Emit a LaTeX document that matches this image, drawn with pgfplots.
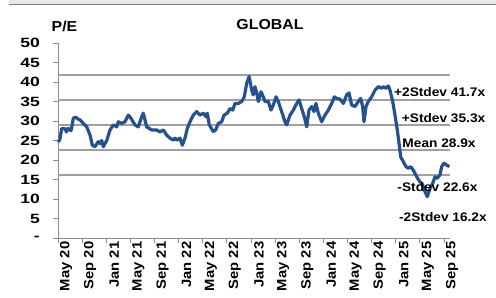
\documentclass[border=0pt]{standalone}
\usepackage{fontspec}
\setmainfont{Liberation Sans}[FakeStretch=1.1]
\newfontfamily\tickfont{Liberation Sans}[FakeStretch=1.3]
\usepackage{pgfplots}
\pgfplotsset{compat=1.18}
\definecolor{pelines}{HTML}{25528F}
\definecolor{sdgray}{HTML}{A0A0A0}
\definecolor{axgray}{HTML}{8C8C8C}
\begin{document}
\begin{tikzpicture}
\useasboundingbox (0,0) rectangle (496bp,298bp);
\clip (0,0) rectangle (496bp,298bp);
\fill[white] (0,0) rectangle (496bp,298bp);
\fill[gray!18] (9bp,294bp) rectangle (496bp,298bp);
\fill[gray] (9bp,292.6bp) rectangle (496bp,294.2bp);
\node[font=\bfseries\fontsize{14.5}{16}\selectfont, inner sep=0] at (270bp,273bp) {GLOBAL};
\node[font=\bfseries\fontsize{14.5}{16}\selectfont, inner sep=0, anchor=west] at (51.5bp,271.3bp) {P/E};
\begin{axis}[
  at={(58bp,60bp)}, anchor=south west,
  scale only axis, width=392bp, height=195bp,
  xmin=0, xmax=65, ymin=0, ymax=50,
  axis lines*=left,
  axis line style={draw=axgray, line width=1bp},
  xtick={0,4,...,64},
  xticklabels={May 20,Sep 20,Jan 21,May 21,Sep 21,Jan 22,May 22,Sep 22,Jan 23,May 23,Sep 23,Jan 24,May 24,Sep 24,Jan 25,May 25,Sep 25},
  ytick={0,5,...,50},
  yticklabels={{-\hspace{8bp}},5,10,15,20,25,30,35,40,45,50},
  tick align=outside, major tick length=5bp,
  tick style={draw=axgray, line width=0.8bp},
  xticklabel style={rotate=90, anchor=east, inner sep=0pt, yshift=-8bp, xshift=1.5bp, font=\bfseries\fontsize{13.5}{14}\selectfont},
  yticklabel style={anchor=east, inner sep=0pt, xshift=-13bp, font=\tickfont\bfseries\fontsize{13.5}{14}\selectfont},
  clip=false,
]
\addplot[sdgray, line width=2bp] coordinates {(0,41.7) (65,41.7)};
\addplot[sdgray, line width=2bp] coordinates {(0,35.3) (65,35.3)};
\addplot[sdgray, line width=2bp] coordinates {(0,28.9) (65,28.9)};
\addplot[sdgray, line width=2bp] coordinates {(0,22.6) (65,22.6)};
\addplot[sdgray, line width=2bp] coordinates {(0,16.2) (65,16.2)};
\addplot[pelines, line width=3.2bp, line join=round] coordinates {
(0,24.6) (0.3,25.2) (0.61,28.1) (1.16,28) (1.4,27.2) (1.66,28.1) (2.16,27.5) (2.54,30.7) (2.93,31) (3.3,30.5) (3.65,30.3) (4.19,29.4) (4.76,28.5) (5.31,26.4) (5.69,23.8) (6.13,23.4) (6.68,24.7) (7.0,24.2) (7.25,25) (7.51,23.4) (8.08,25) (8.62,27.7) (9.17,29) (9.73,28.5) (10.0,29.8) (10.56,29.4) (11.11,29.8) (11.66,31.5) (12.10,30.7) (12.77,29) (13.31,28.5) (13.88,31.1) (14.14,32) (14.71,28.5) (15.54,27.7) (16.08,27.7) (16.37,27.7) (16.91,27.2) (17.46,27.7) (18.02,26.4) (18.57,25.6) (19.12,25.1) (19.4,25.6) (19.68,25.1) (20.23,25.6) (20.61,23.8) (21.06,25.6) (21.44,28.1) (21.89,29.8) (22.43,31.5) (23.0,32.4) (23.54,31.5) (24.09,32) (24.54,31.1) (24.76,32) (25.09,29) (25.75,27.3) (26.15,27.7) (26.58,29.4) (27.14,29.8) (27.52,31.5) (28.07,32) (28.52,33.2) (28.97,32.8) (29.35,34.5) (29.90,34.5) (30.46,35) (30.89,36.2) (31.29,39.7) (31.7,41.4) (32.12,37.9) (32.38,36.7) (32.66,38.8) (32.95,37.2) (33.21,35) (33.66,37.5) (34.04,36.2) (34.32,35) (34.87,35) (35.32,32.8) (35.70,34.1) (36.15,36.2) (36.53,35) (37.09,32.4) (37.64,29.8) (37.92,29) (38.47,31.5) (39.02,32.8) (39.58,34.5) (39.96,35.4) (40.41,33.2) (40.84,31.1) (41.24,28.5) (41.62,32.8) (42.07,33.7) (42.45,32.4) (42.78,34.5) (43.16,32) (43.72,29.8) (44.27,31.5) (44.82,32.8) (45.38,34.5) (45.81,36.2) (46.21,35.8) (46.76,35.6) (47.31,34.5) (47.87,36.7) (48.25,37.2) (48.70,34.1) (49.25,33.7) (49.79,35) (50.19,35.8) (50.52,33.7) (50.74,29.8) (51.07,33.7) (51.45,35) (52.01,36.2) (52.56,37.9) (53.11,38.8) (53.67,38.4) (53.94,38.8) (54.39,38.4) (54.77,39) (55.05,37.9) (55.50,35) (55.88,31.5) (56.26,27.7) (56.59,23.8) (56.82,20.8) (57.25,19.6) (57.70,18.3) (58.08,17.9) (58.48,18.3) (58.91,17.4) (59.48,15.7) (60.02,14.4) (60.47,13.6) (60.85,11.9) (61.23,10.6) (61.68,12.7) (62.13,14) (62.51,15.7) (62.89,15.3) (63.34,16.2) (63.62,18.3) (64.0,19.2) (64.45,18.7) (64.88,18.3)
};
\tikzset{lbl/.style={anchor=west, inner sep=0pt, font=\bfseries\fontsize{12.5}{14}\selectfont}}
\node[lbl] at (axis cs:55.71,37.44) {+2Stdev 41.7x};
\node[lbl] at (axis cs:56.99,30.64) {+Stdev 35.3x};
\node[lbl] at (axis cs:57.09,24.36) {Mean 28.9x};
\node[lbl] at (axis cs:56.26,13.08) {-Stdev 22.6x};
\node[lbl] at (axis cs:56.54,5.38) {-2Stdev 16.2x};
\end{axis}
\end{tikzpicture}
\end{document}
